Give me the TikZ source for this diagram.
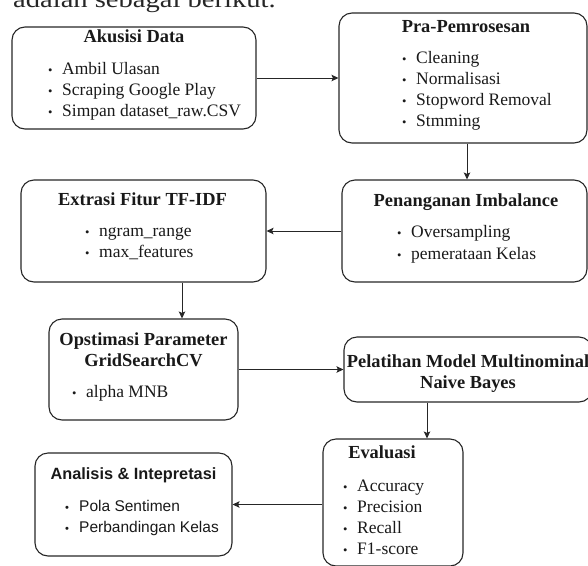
\documentclass[tikz,border=0pt]{standalone}
\usepackage{fontspec}
\setmainfont{Liberation Serif}
\newfontfamily\arialf{Liberation Sans}
\usetikzlibrary{arrows.meta}
\newcommand{\bdot}{\makebox[13.5pt][l]{\hspace{-0.5pt}\scalebox{0.72}{•}}}
\begin{document}
\begin{tikzpicture}[x=1pt,y=-1pt,
  box/.style={draw=black!85, line width=1.1pt, rounded corners=13pt, inner sep=0pt},
  ttl/.style={anchor=base, inner sep=0pt, text=black!90, font=\fontsize{18.4}{21}\selectfont\bfseries},
  itm/.style={anchor=base west, inner sep=0pt, text=black!90, font=\fontsize{17.5}{21}\selectfont},
  sttl/.style={anchor=base, inner sep=0pt, text=black!90, font=\arialf\fontsize{16.3}{19}\selectfont\bfseries},
  sitm/.style={anchor=base west, inner sep=0pt, text=black!90, font=\arialf\fontsize{15.5}{19}\selectfont},
  arr/.style={draw=black!85, line width=1pt, -{Stealth[length=7pt,width=6.5pt,inset=1.5pt]}}]
\useasboundingbox (0,0) rectangle (588,565);
\clip (0,0) rectangle (588,565);

% intro text (cut at top, as in the reference)
\node[anchor=base west, inner sep=0pt, text=black!85] (intro) at (13,7.5)
  {\scalebox{1.19}[1]{\fontsize{24}{24}\selectfont adalah sebagai berikut.}};

% boxes
\node[box, minimum width=244pt, minimum height=102pt] (b1) at (134,78) {};
\node[box, minimum width=248pt, minimum height=130pt] (b2) at (463,78) {};
\node[box, minimum width=245pt, minimum height=102pt] (b4) at (464.5,231) {};
\node[box, minimum width=245pt, minimum height=102pt] (b3) at (143.5,231) {};
\node[box, minimum width=189pt, minimum height=101pt] (b5) at (143.5,369.5) {};
\node[box, minimum width=248pt, minimum height=65pt] (b6) at (468,369.5) {};
\node[box, minimum width=140pt, minimum height=127pt] (b7) at (393,502.5) {};
\node[box, minimum width=197pt, minimum height=103pt] (b8) at (133.5,504.5) {};

% box 1
\node[ttl] (t1) at (134,42) {Akusisi Data};
\node[itm] (i1a) at (48.5,74) {\bdot Ambil Ulasan};
\node[itm] (i1b) at (48.5,95) {\bdot Scraping Google Play};
\node[itm] (i1c) at (48.5,116) {\bdot Simpan dataset\_raw.CSV};

% box 2
\node[ttl] (t2) at (466,32) {Pra-Pemrosesan};
\node[itm] (i2a) at (402.5,63) {\bdot Cleaning};
\node[itm] (i2b) at (402.5,84) {\bdot Normalisasi};
\node[itm] (i2c) at (402.5,105) {\bdot Stopword Removal};
\node[itm] (i2d) at (402.5,126) {\bdot Stmming};

% box 4
\node[ttl] (t4) at (466,206) {Penanganan Imbalance};
\node[itm] (i4a) at (397.5,237) {\bdot Oversampling};
\node[itm] (i4b) at (397.5,259) {\bdot pemerataan Kelas};

% box 3
\node[ttl] (t3) at (142.5,205) {Extrasi Fitur TF-IDF};
\node[itm] (i3a) at (85.5,236) {\bdot ngram\_range};
\node[itm] (i3b) at (85.5,257) {\bdot max\_features};

% box 5
\node[ttl] (t5a) at (143.5,345) {Opstimasi Parameter};
\node[ttl] (t5b) at (143.5,366) {GridSearchCV};
\node[itm] (i5a) at (72.5,397) {\bdot alpha MNB};

% box 6
\node[ttl] (t6a) at (468,367) {Pelatihan Model Multinominal};
\node[ttl] (t6b) at (468,388) {Naive Bayes};

% box 7
\node[ttl] (t7) at (382,458) {Evaluasi};
\node[itm] (i7a) at (343.5,491) {\bdot Accuracy};
\node[itm] (i7b) at (343.5,512) {\bdot Precision};
\node[itm] (i7c) at (343.5,533) {\bdot Recall};
\node[itm] (i7d) at (343.5,554) {\bdot F1-score};

% box 8
\node[sttl] (t8) at (133.5,479) {Analisis \& Intepretasi};
\node[sitm] (i8a) at (65.5,511) {\bdot Pola Sentimen};
\node[sitm] (i8b) at (65.5,532) {\bdot Perbandingan Kelas};

% connectors
\draw[arr] (b1.east) -- (b2.west |- b1.east);
\draw[arr] ([xshift=4pt]b2.south) -- ([xshift=4pt]b2.south |- b4.north);
\draw[arr] (b4.west) -- (b3.east);
\draw[arr] ([xshift=38.5pt]b3.south) -- ([xshift=38.5pt]b3.south |- b5.north);
\draw[arr] (b5.east) -- (b6.west);
\draw[arr] ([xshift=-41pt]b6.south) -- ([xshift=-41pt]b6.south |- b7.north);
\draw[arr] (b7.west |- b8.east) -- (b8.east);
\end{tikzpicture}
\end{document}
